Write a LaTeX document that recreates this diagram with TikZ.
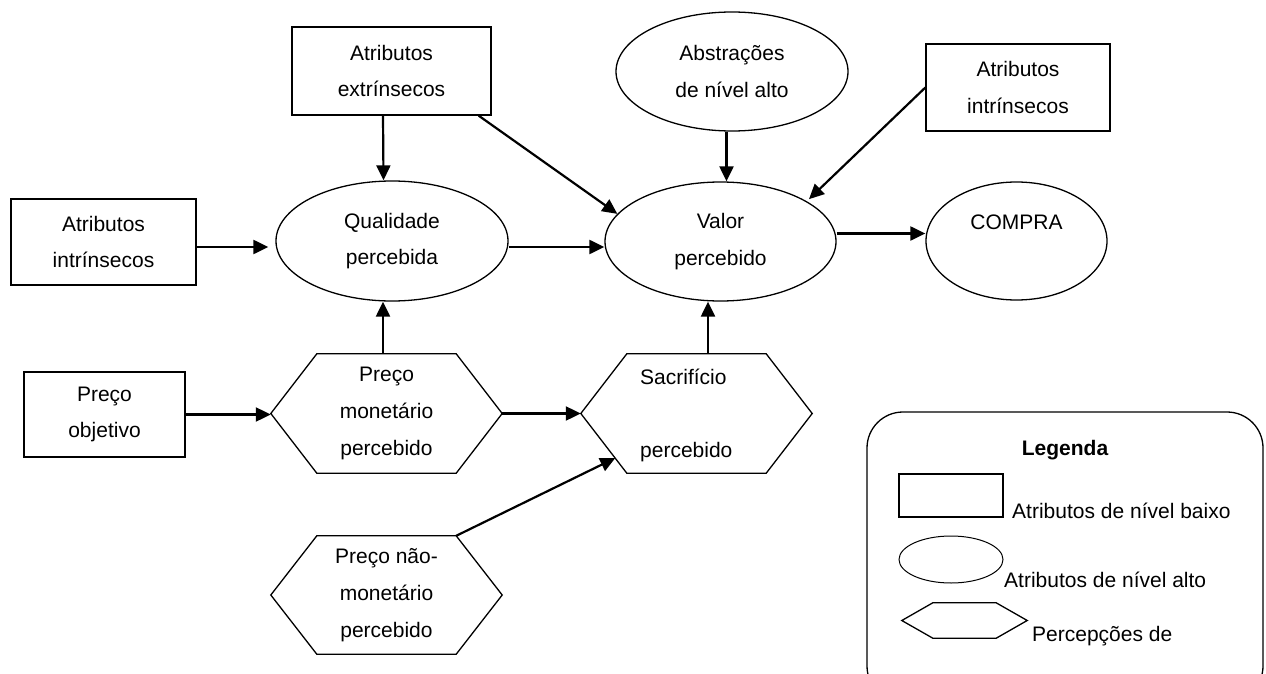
\documentclass[tikz,border=0pt]{standalone}
\usepackage{fontspec}
\setmainfont{Liberation Sans}
\usetikzlibrary{shapes.geometric,arrows.meta,calc}
\begin{document}
\begin{tikzpicture}[x=1pt,y=-1pt,
  every node/.style={font=\fontsize{21}{36.7}\selectfont, inner sep=0pt, align=center},
  box/.style={draw, line width=1.3pt, rectangle},
  oval/.style={draw, line width=1.3pt, ellipse},
  hexbox/.style={rectangle},
  hexline/.style={line width=1.3pt, line join=miter},
  arr/.style={line width=2.2pt, -{Triangle[length=15pt,width=14pt]}},
  legtxt/.style={anchor=base west}
]
\clip (0,0) rectangle (1266,674);

% main nodes
\node[box, minimum width=199pt, minimum height=88pt] (extr) at (391.5,71) {Atributos\\extrínsecos};
\node[box, minimum width=185pt, minimum height=86pt] (intrL) at (103.5,242) {Atributos\\intrínsecos};
\node[oval, minimum width=232pt, minimum height=120pt] (qual) at (392,241) {Qualidade\\percebida};
\node[oval, minimum width=232pt, minimum height=119pt] (abstr) at (732,71.5) {Abstrações\\de nível alto};
\node[box, minimum width=184pt, minimum height=87pt] (intrR) at (1018,87.5) {Atributos\\intrínsecos};
\node[oval, minimum width=231pt, minimum height=119pt] (valor) at (720.5,241.5) {Valor\\percebido};
\node[oval, minimum width=181pt, minimum height=118pt] (compra) at (1016.5,241) {COMPRA\\\mbox{}};
\node[box, minimum width=161pt, minimum height=85pt] (pobj) at (104.5,414.5) {Preço\\objetivo};
\node[hexbox, minimum width=231pt, minimum height=119pt] (pmon) at (386.5,413.5) {Preço\\monetário\\percebido};
\node[hexbox, minimum width=231pt, minimum height=119pt] (sac) at (696.5,413.5) {};
\node[anchor=west, align=left] (sactxt) at (640,415.5) {Sacrifício\\\mbox{}\\percebido};
\node[hexbox, minimum width=231pt, minimum height=118pt] (pnm) at (386.5,595) {Preço não-\\monetário\\percebido};

% legend
\node[draw, line width=1.3pt, rounded corners=36pt, minimum width=396pt, minimum height=290pt] (leg) at (1065,557) {};
\node[font=\bfseries\fontsize{21}{25}\selectfont, anchor=base] (legt) at (1065,455) {Legenda};
\node[box, minimum width=104pt, minimum height=43pt] (lbox) at (951,495.5) {};
\node[oval, line width=1pt, minimum width=104pt, minimum height=47pt] (lell) at (951,559.5) {};
\node[hexbox, minimum width=125pt, minimum height=35pt] (lhex) at (964.5,620.5) {};
\node[legtxt] (t1) at (1012,518) {Atributos de nível baixo};
\node[legtxt] (t2) at (1004,587) {Atributos de nível alto};
\node[legtxt] (t3) at (1032,641) {Percepções de};

% hexagon outlines
\foreach \n/\c in {pmon/46, sac/46, pnm/46, lhex/31}
  \draw[hexline] (\n.west) -- ([xshift=\c]\n.north west) -- ([xshift=-\c]\n.north east) -- (\n.east)
    -- ([xshift=-\c]\n.south east) -- ([xshift=\c]\n.south west) -- cycle;

% connectors
\draw[arr] ([xshift=-8.5]extr.south) -- ([xshift=-8.5]qual.north);
\draw[arr] ([xshift=-13]extr.south east) -- (valor.165);
\draw[arr, shorten >=7pt] ([yshift=-5]intrL.east) -- ([yshift=-5]intrL.east -| qual.west);
\draw[arr] ([yshift=-6]qual.east) -- ([yshift=-6]qual.east -| valor.west);
\draw[arr] ([xshift=-5.5]abstr.south) -- ([xshift=-5.5]abstr.south |- valor.north);
\draw[arr, shorten >=3pt] (intrR.west) -- (valor.25);
\draw[arr] ([yshift=8]valor.east) -- ([yshift=8]valor.east -| compra.west);
\draw[arr] (pobj.east) -- (pobj.east -| pmon.west);
\draw[arr] ([xshift=-3.5]pmon.north) -- ([xshift=-3.5]pmon.north |- qual.south);
\draw[arr] (pmon.east) -- (sac.west);
\draw[arr] ([xshift=11.5]sac.north) -- ([xshift=11.5]sac.north |- valor.south);
\coordinate (sacin) at ([xshift=34.5,yshift=-44.5]sac.west);
\draw[arr] ([xshift=-46]pnm.north east) -- (sacin);
\end{tikzpicture}
\end{document}
